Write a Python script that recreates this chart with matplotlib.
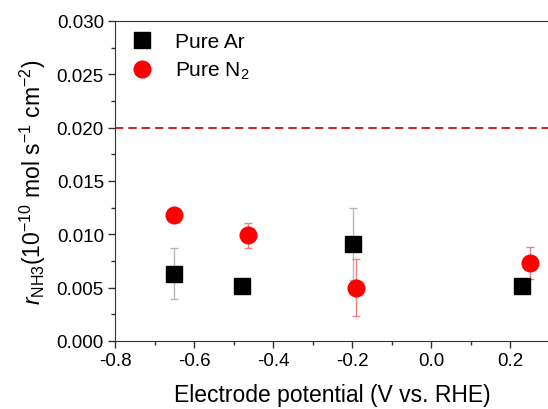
import numpy as np
import matplotlib
matplotlib.use('Agg')
matplotlib.rcParams['font.family'] = 'Liberation Sans'
matplotlib.rcParams['mathtext.fontset'] = 'custom'
matplotlib.rcParams['mathtext.rm'] = 'Liberation Sans'
matplotlib.rcParams['mathtext.it'] = 'Liberation Sans:italic'
matplotlib.rcParams['mathtext.default'] = 'regular'
import matplotlib.pyplot as plt
from matplotlib.ticker import MultipleLocator, FormatStrFormatter

# data
ar_x = [-0.65, -0.48, -0.197, 0.228]
ar_y = [0.0063, 0.0052, 0.0091, 0.0052]
ar_err = [0.0024, 0.0, 0.0034, 0.0]

n2_x = [-0.65, -0.463, -0.19, 0.25]
n2_y = [0.0118, 0.0099, 0.0050, 0.0073]
n2_err = [0.0, 0.0012, 0.0027, 0.0015]

threshold = 0.020

fig = plt.figure(figsize=(5.48, 4.1), dpi=100)
ax = fig.add_axes([115 / 548, 1 - 342 / 410, 435 / 548, 320 / 410])

ax.errorbar(ar_x, ar_y, yerr=ar_err, fmt='none', ecolor='#b8b8b8',
            elinewidth=1, capsize=3, capthick=1, zorder=2)
ax.errorbar(n2_x, n2_y, yerr=n2_err, fmt='none', ecolor='#f08080',
            elinewidth=1, capsize=3, capthick=1, zorder=2)
ax.plot(ar_x, ar_y, 's', color='black', ms=11, ls='none', label='Pure Ar', zorder=3)
ax.plot(n2_x, n2_y, 'o', color='#ff0000', ms=12, ls='none', label='Pure N$_2$', zorder=3)

ax.axhline(threshold, color='#c00000', ls=(0, (5, 3)), lw=1.2, zorder=1)

ax.set_xlim(-0.8, 0.3)
ax.set_ylim(0, 0.030)
ax.xaxis.set_major_locator(MultipleLocator(0.2))
ax.xaxis.set_minor_locator(MultipleLocator(0.1))
ax.yaxis.set_major_locator(MultipleLocator(0.005))
ax.yaxis.set_minor_locator(MultipleLocator(0.0025))
ax.xaxis.set_major_formatter(FormatStrFormatter('%.1f'))
ax.yaxis.set_major_formatter(FormatStrFormatter('%.3f'))

ax.tick_params(which='both', direction='out', labelsize=13.5, width=1, color='#333333')
ax.tick_params(which='major', length=5, pad=3)
ax.tick_params(which='minor', length=3)
for s in ax.spines.values():
    s.set_color('#333333')

ax.set_xlabel('Electrode potential (V vs. RHE)', fontsize=16.5, labelpad=10)
ax.set_ylabel(r'$\mathit{r}_{NH3}$(10$^{-10}$ mol s$^{-1}$ cm$^{-2}$)', fontsize=16.5, labelpad=6)

ax.legend(loc='upper left', frameon=False, fontsize=15, handletextpad=0.85,
          borderaxespad=0.15, labelspacing=0.4, handlelength=1.5)

fig.savefig('out.png', dpi=100)
